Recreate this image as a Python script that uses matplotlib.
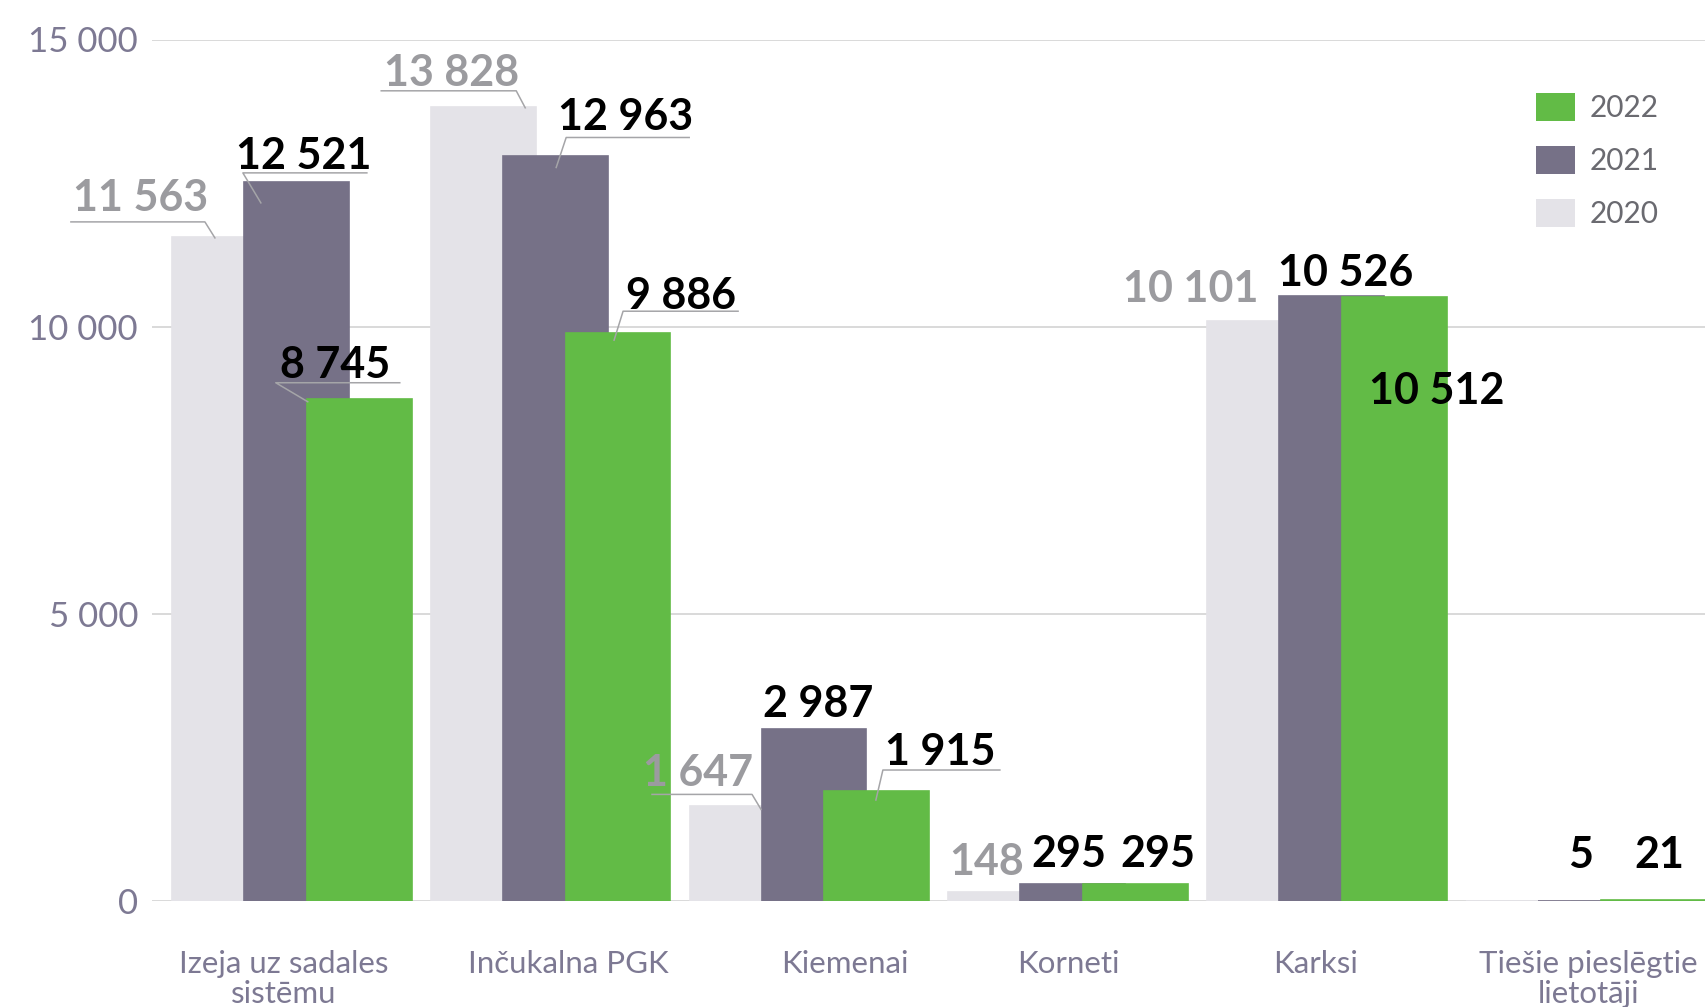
import numpy as np
import matplotlib
matplotlib.use("Agg")
import matplotlib.pyplot as plt
from matplotlib.lines import Line2D
from matplotlib.patches import Patch
from matplotlib.transforms import IdentityTransform


categories = [
    "Izeja uz sadales\nsistēmu",
    "Inčukalna PGK",
    "Kiemenai",
    "Korneti",
    "Karksi",
    "Tiešie pieslēgtie\nlietotāji",
]
years = ["2020", "2021", "2022"]
v2020 = [11563, 13828, 1647, 148, 10101, np.nan]
v2021 = [12521, 12963, 2987, 295, 10526, 5]
v2022 = [8745, 9886, 1915, 295, 10512, 21]
y_ticks = [0, 5000, 10000, 15000]
y_tick_labels = ["0", "5 000", "10 000", "15 000"]

colors = ["#e4e3e8", "#767187", "#62bb46"]
label_colors = ["#9b9b9f", "#000000", "#000000"]
axis_text = "#7d7993"

plt.rcParams["font.family"] = ["Lato", "DejaVu Sans"]

fig = plt.figure(figsize=(17.06, 10.07), dpi=100)
ax = fig.add_axes([152 / 1706, 106 / 1007, 1 - 152 / 1706, 861.5 / 1007])

# bars overlap inside a group: 2020 at the back, 2022 in front
width = 0.405
offsets = [0.0, 0.278, 0.521]
series = [v2020, v2021, v2022]
x = np.arange(len(categories))
for i, vals in enumerate(series):
    ax.bar(x + offsets[i], np.nan_to_num(vals), width=width, align="edge",
           color=colors[i], edgecolor=colors[i], linewidth=1.2,
           zorder=2 + i, label=years[i])

ax.set_xlim(-0.0773, 5.927)
ax.set_ylim(0, 15000)
ax.set_yticks(y_ticks, y_tick_labels)
ax.tick_params(axis="y", length=0, pad=10, labelsize=25, labelcolor=axis_text)

# category labels sit a bit off the group centres
label_shift = [-0.03, 0.07, 0.135, 0.0, -0.046, 0.01]
ax.set_xticks(x + (offsets[2] + width) / 2 + np.array(label_shift), categories)
ax.tick_params(axis="x", length=0, pad=35, labelsize=22.5, labelcolor=axis_text)
for t in ax.get_xticklabels():
    t.set_linespacing(1.1)

ax.grid(axis="y", color="#d0d0d0", linewidth=1.1)
ax.set_axisbelow(True)
for s in ax.spines.values():
    s.set_visible(False)

# value labels: (series, group) -> text offset from bar top in pixels (x right, y down)
label_pos = {
    (0, 0): (-83.5, -41), (1, 0): (7.5, -28), (2, 0): (-24.5, -36),
    (0, 1): (-32, -36), (1, 1): (70, -41), (2, 1): (63, -39),
    (0, 2): (-44, -35), (1, 2): (4, -27), (2, 2): (63, -41),
    (0, 3): (-14, -32.5), (1, 3): (-4, -32), (2, 3): (22, -32),
    (0, 4): (-68.5, -34), (1, 4): (14.5, -25.5), (2, 4): (42.5, 92),
    (1, 5): (-9.5, -48), (2, 5): (6.5, -47),
}
# leader lines: underline then a short stroke to the bar
leaders = {
    (0, 0): [(-153.5, -15), (-19.5, -15), (-9.5, 1)],
    (1, 0): [(70.5, -9), (-53.5, -9), (-35.5, 21)],
    (2, 0): [(40.5, -16), (-83.5, -16), (-51.5, 3)],
    (0, 1): [(-102, -16), (33, -16), (42, 1)],
    (1, 1): [(134, -19), (11, -19), (1, 11)],
    (2, 1): [(120, -22), (5, -22), (-4, 7)],
    (0, 2): [(-90, -12), (10, -12), (19, 3)],
    (2, 2): [(123, -21), (6, -21), (-1, 9)],
}

for (si, gi), (dx, dy) in label_pos.items():
    val = series[si][gi]
    bx = gi + offsets[si] + width / 2
    txt = f"{val:,}".replace(",", " ")
    ax.annotate(txt, xy=(bx, val), xytext=(dx, -(dy + 15)),
                textcoords="offset pixels", ha="center", va="baseline",
                fontsize=31, fontweight="bold", color=label_colors[si],
                zorder=10, annotation_clip=False)
    if (si, gi) in leaders:
        px, py = ax.transData.transform((bx, val))
        pts = leaders[(si, gi)]
        fig.add_artist(Line2D([px + p[0] for p in pts], [py - p[1] for p in pts],
                              transform=IdentityTransform(), color="#a5a5a8",
                              linewidth=1.1, zorder=9))

handles = [Patch(facecolor=colors[i], label=years[i]) for i in (2, 1, 0)]
leg = fig.legend(handles=handles, loc="upper left",
                 bbox_to_anchor=(1536 / 1706, 1 - 93 / 1007), frameon=False,
                 fontsize=21.5, handlelength=1.31, handleheight=1.05,
                 handletextpad=0.5, labelspacing=0.8, borderpad=0,
                 borderaxespad=0)
for t in leg.get_texts():
    t.set_color("#6a6a70")

fig.savefig("out.png", dpi=100)
